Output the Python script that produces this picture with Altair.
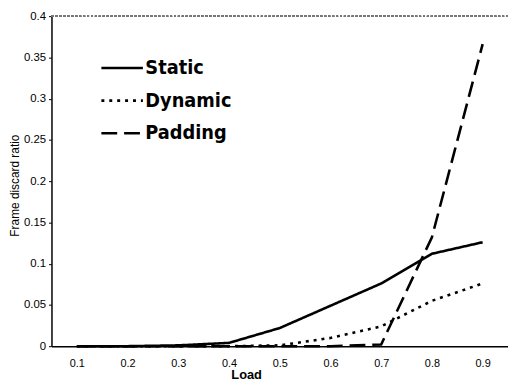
import altair as alt
import pandas as pd

loads = [0.1, 0.2, 0.3, 0.4, 0.5, 0.6, 0.7, 0.8, 0.9]
static = [0.0, 0.0, 0.001, 0.004, 0.022, 0.049, 0.076, 0.112, 0.126]
dynamic = [0.0, 0.0, 0.0, 0.0, 0.001, 0.010, 0.024, 0.055, 0.076]
padding = [0.0, 0.0, 0.0, 0.0, 0.0, 0.0, 0.002, 0.132, 0.366]
series = ["Static", "Dynamic", "Padding"]
y_ticks = [0, 0.05, 0.1, 0.15, 0.2, 0.25, 0.3, 0.35, 0.4]

rows = []
for name, vals in zip(series, [static, dynamic, padding]):
    for l, v in zip(loads, vals):
        rows.append({"load": l, "ratio": v, "scheme": name})
df = pd.DataFrame(rows)

lines = alt.Chart(df).mark_line(color="black", strokeWidth=2.6).encode(
    x=alt.X("load:Q",
            scale=alt.Scale(domain=[0.05, 0.95], nice=False, zero=False),
            axis=alt.Axis(values=loads, format="~g", title="Load", grid=False,
                          ticks=False, labelPadding=12, labelFontSize=11,
                          labelColor="black", domainColor="black", domainWidth=1.5,
                          titleX=197, titleY=33, titleAlign="center",
                          titleBaseline="alphabetic",
                          titleFontSize=13, titleFontWeight="bold")),
    y=alt.Y("ratio:Q",
            scale=alt.Scale(domain=[0, 0.4], nice=False),
            axis=alt.Axis(values=y_ticks, format="~g", title="Frame discard ratio",
                          grid=False, tickSize=3, tickColor="black", labelPadding=3,
                          labelFontSize=11.5, labelColor="black", domainColor="black",
                          domainWidth=1.5, titleX=-30, titleY=171,
                          titleAlign="center", titleBaseline="bottom",
                          titleAngle=270, titleFontSize=12,
                          titleFontWeight="normal")),
    strokeDash=alt.StrokeDash("scheme:N",
                              scale=alt.Scale(domain=series,
                                              range=[[1, 0], [3, 5], [16, 7]]),
                              sort=series,
                              legend=alt.Legend(title=None, orient="none",
                                                legendX=55, legendY=36,
                                                symbolType="M-1.4,0H1.4",
                                                symbolSize=900,
                                                symbolStrokeWidth=2.6,
                                                symbolStrokeColor="black",
                                                labelOffset=7,
                                                labelFont="DejaVu Sans Condensed, DejaVu Sans",
                                                labelFontSize=20,
                                                labelFontWeight="bold",
                                                labelColor="black",
                                                rowPadding=6)),
    order=alt.Order("load:Q"),
)

top = alt.Chart(df).mark_rule(color="#777", strokeDash=[2, 2], strokeWidth=1).encode(
    y=alt.value(0)
)

chart = alt.layer(top, lines).properties(
    width=462, height=334,
    autosize=alt.AutoSizeParams(type="none"),
    padding={"left": 44, "top": 6, "right": 0, "bottom": 34},
).configure_view(stroke=None).configure_axis(
    labelFont="Liberation Sans", titleFont="Liberation Sans", titleColor="black"
)

chart.save("out.html", embed_options={"renderer": "svg", "actions": False})
